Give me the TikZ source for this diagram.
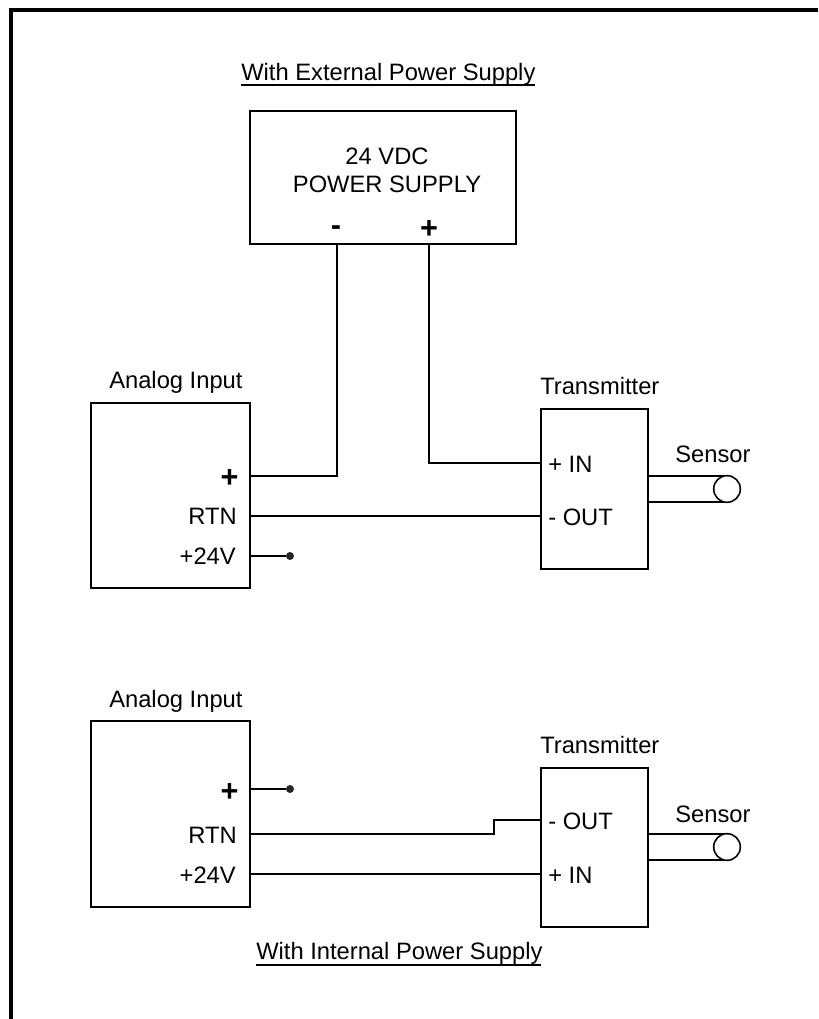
\documentclass[tikz,border=0pt]{standalone}
\usepackage{fontspec}
\setmainfont{Liberation Sans}
\tikzset{
  wire/.style={line width=1.2pt},
  underl/.style={line width=0.8pt},
  unitbox/.style={draw,line width=1.2pt,anchor=north west,inner sep=0pt,outer sep=0pt},
  lbl/.style={font=\fontsize{17.8}{20}\selectfont,inner sep=0pt},
  bigsign/.style={font=\fontsize{23}{26}\selectfont\bfseries,inner sep=0pt},
  pindot/.style={circle,fill=black!85,inner sep=0pt,minimum size=6pt},
  sensorring/.style={circle,draw,line width=1.2pt,fill=white,inner sep=0pt,minimum size=20pt}
}
\begin{document}
\begin{tikzpicture}[x=0.75pt,y=-0.75pt]
  \useasboundingbox (0,0) rectangle (818,1019);
  \coordinate (framebl) at (11,1019);
  \coordinate (frametl) at (11,10);
  \coordinate (frametr) at (818,10);
  \draw [line width=3pt] (framebl) -- (frametl) -- (frametr);
  % upper circuit
  \node [lbl,anchor=base west] (titleext) at (241,81) {With External Power Supply};
  \coordinate (extula) at (241,85);
  \coordinate (extulb) at (535,85);
  \draw [underl] (extula) -- (extulb);
  \node [unitbox,minimum width=199.5pt,minimum height=99.75pt] (supply) at (250,111) {};
  \node [lbl,anchor=base] (supplya) at (387,165) {24 VDC};
  \node [lbl,anchor=base] (supplyb) at (387,193) {POWER SUPPLY};
  \node [bigsign] (minus) at (336,231) {-};
  \node [bigsign] (plus) at (429,230) {+};
  \coordinate (minuspin) at (337,244);
  \coordinate (pluspin) at (429,244);
  \node [lbl,anchor=base west] (aitopname) at (109,388) {Analog Input};
  \node [unitbox,minimum width=119.25pt,minimum height=138.75pt] (aitop) at (91,403) {};
  \node [bigsign] (aitopplus) at (229.5,479) {+};
  \node [lbl,anchor=base east] (aitoprtn) at (237,524) {RTN};
  \node [lbl,anchor=base east] (aitopv) at (236,564) {+24V};
  \coordinate (aitopp) at (250,476);
  \coordinate (aitopr) at (250,516);
  \coordinate (aitopf) at (250,556);
  \node [pindot] (dottop) at (290,556) {};
  \node [lbl,anchor=base west] (txtopname) at (540,394) {Transmitter};
  \node [unitbox,minimum width=80.25pt,minimum height=120pt] (txtop) at (541,409) {};
  \node [lbl,anchor=base west] (txtopin) at (548,472) {+ IN};
  \node [lbl,anchor=base west] (txtopout) at (548,525) {- OUT};
  \coordinate (txtopi) at (541,463);
  \coordinate (txtopo) at (541,516);
  \node [lbl,anchor=base west] (sensortopname) at (675,462) {Sensor};
  \coordinate (senstopa) at (648,476);
  \coordinate (senstopb) at (648,502);
  \coordinate (ringtopa) at (727,476);
  \coordinate (ringtopb) at (727,502);
  \draw [wire] (minuspin) |- (aitopp);
  \draw [wire] (pluspin) |- (txtopi);
  \draw [wire] (aitopr) -- (txtopo);
  \draw [wire] (aitopf) -- (dottop);
  \draw [wire] (senstopa) -- (ringtopa);
  \draw [wire] (senstopb) -- (ringtopb);
  \node [sensorring] (ringtop) at (727,489) {};
  % lower circuit
  \node [lbl,anchor=base west] (aibotname) at (109,707) {Analog Input};
  \node [unitbox,minimum width=119.25pt,minimum height=139.5pt] (aibot) at (91,721) {};
  \node [bigsign] (aibotplus) at (229.5,792) {+};
  \node [lbl,anchor=base east] (aibotrtn) at (237,843) {RTN};
  \node [lbl,anchor=base east] (aibotv) at (236,883) {+24V};
  \coordinate (aibotp) at (250,789);
  \coordinate (aibotr) at (250,834);
  \coordinate (aibotf) at (250,874);
  \node [pindot] (dotbot) at (290,789) {};
  \node [lbl,anchor=base west] (txbotname) at (540,753) {Transmitter};
  \node [unitbox,minimum width=80.25pt,minimum height=119.25pt] (txbot) at (541,768) {};
  \node [lbl,anchor=base west] (txbotout) at (548,829) {- OUT};
  \node [lbl,anchor=base west] (txbotin) at (548,883) {+ IN};
  \coordinate (txboto) at (541,820);
  \coordinate (txboti) at (541,874);
  \coordinate (jog) at (494,827);
  \node [lbl,anchor=base west] (sensorbotname) at (675,822) {Sensor};
  \coordinate (sensbota) at (648,834);
  \coordinate (sensbotb) at (648,860);
  \coordinate (ringbota) at (727,834);
  \coordinate (ringbotb) at (727,860);
  \draw [wire] (aibotp) -- (dotbot);
  \draw [wire] (aibotr) -| (jog) |- (txboto);
  \draw [wire] (aibotf) -- (txboti);
  \draw [wire] (sensbota) -- (ringbota);
  \draw [wire] (sensbotb) -- (ringbotb);
  \node [sensorring] (ringbot) at (727,847) {};
  \node [lbl,anchor=base west] (titleint) at (256,959) {With Internal Power Supply};
  \coordinate (intula) at (256,965);
  \coordinate (intulb) at (541,965);
  \draw [underl] (intula) -- (intulb);
\end{tikzpicture}
\end{document}
